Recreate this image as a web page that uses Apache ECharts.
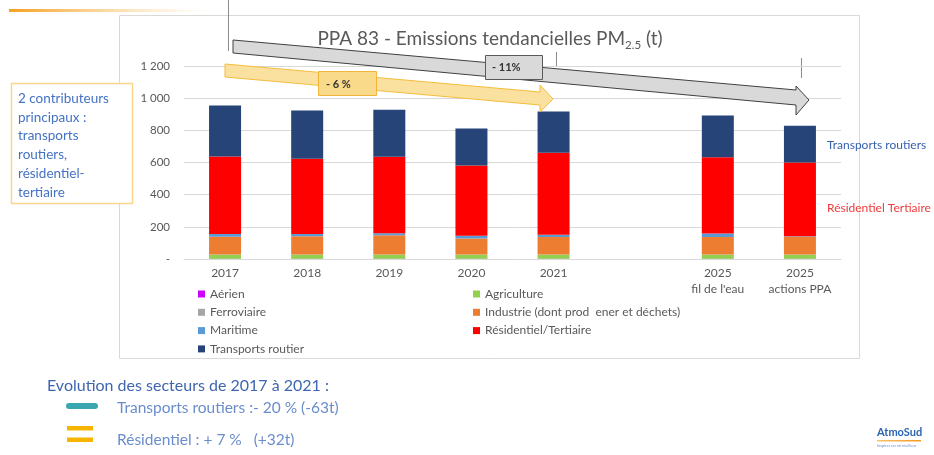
<!DOCTYPE html>
<html>
<head>
<meta charset="utf-8">
<script src="https://cdn.jsdelivr.net/npm/echarts@6/dist/echarts.min.js"></script>
<style>
  html, body { margin: 0; padding: 0; background: #fff; }
  #chart { width: 934px; height: 455px; }
</style>
</head>
<body>
<div id="chart"></div>
<script>
const categories = ['2017', '2018', '2019', '2020', '2021', '', "2025\nfil de l'eau", '2025\nactions PPA']
const yTickLabels = ['-', '200', '400', '600', '800', '1 000', '1 200']

// tonnes PM2.5 per sector ('-' = empty slot)
const aerien = [1, 1, 1, 1, 1, '-', 1, 1]
const agriculture = [26, 26, 26, 26, 26, '-', 26, 26]
const ferroviaire = [1, 1, 1, 1, 1, '-', 1, 1]
const industrie = [111, 113, 119, 100, 109, '-', 109, 111]
const maritime = [17, 15, 13, 17, 14, '-', 21, 3]
const residentiel = [481, 467, 475, 436, 510, '-', 475, 458]
const transports = [317, 301, 293, 231, 256, '-', 259, 229]

const font = 'Lato'
const grey = '#595959'

const chart = echarts.init(document.getElementById('chart'))

function bar(name, data, color) {
  return {
    name: name,
    type: 'bar',
    stack: 'total',
    barWidth: 32,
    data: data,
    itemStyle: { color: color },
    animation: false
  }
}

const legendText = { color: grey, fontSize: 12, fontFamily: font }

chart.setOption({
  textStyle: { fontFamily: font },
  title: {
    text: '{a|PPA 83 - Emissions tendancielles PM}{b|2.5}{a| (t)}',
    left: 485,
    textAlign: 'center',
    top: 22,
    z: 60,
    textStyle: {
      fontWeight: 'normal',
      rich: {
        a: { fontSize: 19, color: grey, fontFamily: font, fontWeight: 'normal', lineHeight: 24 },
        b: { fontSize: 11.5, color: grey, fontFamily: font, fontWeight: 'normal', verticalAlign: 'bottom', padding: [8, 0, 0, 0] }
      }
    }
  },
  grid: { left: 184, right: 93, top: 66, bottom: 196 },
  legend: [
    {
      orient: 'vertical',
      left: 193,
      top: 283,
      itemWidth: 7,
      itemHeight: 7,
      itemGap: 6.3,
      icon: 'rect',
      textStyle: legendText,
      data: ['Aérien', 'Ferroviaire', 'Maritime', 'Transports routier']
    },
    {
      orient: 'vertical',
      left: 468,
      top: 283,
      itemWidth: 7,
      itemHeight: 7,
      itemGap: 6.3,
      icon: 'rect',
      textStyle: legendText,
      data: ['Agriculture', 'Industrie (dont prod  ener et déchets)', 'Résidentiel/Tertiaire']
    }
  ],
  xAxis: {
    type: 'category',
    data: categories,
    axisTick: { show: false },
    axisLine: { lineStyle: { color: '#d9d9d9' } },
    axisLabel: { color: grey, fontSize: 12, lineHeight: 16, margin: 6, interval: 0 }
  },
  yAxis: {
    type: 'value',
    min: 0,
    max: 1200,
    interval: 200,
    axisLabel: {
      color: grey,
      fontSize: 11.5,
      margin: 14,
      formatter: v => yTickLabels[v / 200]
    },
    splitLine: { lineStyle: { color: '#d9d9d9' } }
  },
  series: [
    bar('Aérien', aerien, '#cc00ff'),
    bar('Agriculture', agriculture, '#92d050'),
    bar('Ferroviaire', ferroviaire, '#a5a5a5'),
    bar('Industrie (dont prod  ener et déchets)', industrie, '#ed7d31'),
    bar('Maritime', maritime, '#5b9bd5'),
    bar('Résidentiel/Tertiaire', residentiel, '#ff0000'),
    bar('Transports routier', transports, '#264478')
  ],
  graphic: [
    // chart frame
    { type: 'rect', z: -10, shape: { x: 119.5, y: 15.5, width: 740, height: 343 }, style: { fill: 'none', stroke: '#d9d9d9' } },
    // orange rule at the top
    {
      type: 'rect', shape: { x: 9, y: 9, width: 195, height: 3 },
      style: { fill: new echarts.graphic.LinearGradient(0, 0, 1, 0, [{ offset: 0, color: '#f5a020' }, { offset: 1, color: 'rgba(250,200,120,0)' }]) }
    },
    // thin marker lines
    { type: 'line', shape: { x1: 228.5, y1: 0, x2: 228.5, y2: 51 }, style: { stroke: '#8c8c8c' } },
    { type: 'line', shape: { x1: 556.5, y1: 52, x2: 556.5, y2: 66 }, style: { stroke: '#8c8c8c' } },
    { type: 'line', shape: { x1: 801.5, y1: 58, x2: 801.5, y2: 78 }, style: { stroke: '#8c8c8c' } },
    // grey trend arrow -11%
    {
      type: 'polygon', z: 50,
      shape: { points: [[233, 40], [796, 90], [796, 86], [809, 100], [796, 115], [796, 105], [233, 53]] },
      style: { fill: '#d9d9d9', stroke: '#404040', lineWidth: 1 }
    },
    { type: 'rect', z: 51, shape: { x: 485.5, y: 55.5, width: 57, height: 24 }, style: { fill: '#d9d9d9', stroke: '#595959' } },
    { type: 'text', z: 52, x: 492, y: 67, style: { text: '- 11%', fontSize: 11, fontWeight: 'bold', fill: '#333', fontFamily: font, verticalAlign: 'middle' } },
    // yellow trend arrow -6%
    {
      type: 'polygon', z: 50,
      shape: { points: [[225, 64], [540, 92], [540, 85], [553, 99], [540, 112], [540, 105], [225, 77]] },
      style: { fill: '#fbe1a0', stroke: '#f4bc3c', lineWidth: 1 }
    },
    { type: 'rect', z: 51, shape: { x: 318.5, y: 71.5, width: 58, height: 24 }, style: { fill: '#f9d98a', stroke: '#f2b43a' } },
    { type: 'text', z: 52, x: 326, y: 84, style: { text: '- 6 %', fontSize: 11, fontWeight: 'bold', fill: '#333', fontFamily: font, verticalAlign: 'middle' } },
    // left call-out box
    { type: 'rect', shape: { x: 11.5, y: 83.5, width: 121, height: 120 }, style: { fill: '#fff', stroke: '#fad58a', lineWidth: 1.5 } },
    {
      type: 'text', x: 18, y: 89,
      style: {
        text: '2 contributeurs\nprincipaux :\ntransports\nroutiers,\nrésidentiel-\ntertiaire',
        fontSize: 13.5, lineHeight: 18.8, fill: '#4472c4', fontFamily: font
      }
    },
    // right labels
    { type: 'text', x: 827, y: 145, style: { text: 'Transports routiers', fontSize: 12, fill: '#3762b0', fontFamily: font, verticalAlign: 'middle' } },
    { type: 'text', x: 827, y: 208, style: { text: 'Résidentiel Tertiaire', fontSize: 12, fill: '#f03c3c', fontFamily: font, verticalAlign: 'middle' } },
    // bottom notes
    { type: 'text', x: 47, y: 386, style: { text: 'Evolution des secteurs de 2017 à 2021 :', fontSize: 16, fill: '#3f65b0', fontFamily: font, verticalAlign: 'middle' } },
    { type: 'rect', shape: { x: 66, y: 403, width: 32, height: 6, r: 3 }, style: { fill: '#3aa7b0' } },
    { type: 'text', x: 117, y: 408, style: { text: 'Transports routiers :- 20 % (-63t)', fontSize: 15.5, fill: '#6a8dcc', fontFamily: font, verticalAlign: 'middle' } },
    { type: 'rect', shape: { x: 67, y: 426, width: 26, height: 4.5 }, style: { fill: '#f7b500' } },
    { type: 'rect', shape: { x: 67, y: 437.5, width: 26, height: 4.5 }, style: { fill: '#f7b500' } },
    { type: 'text', x: 117, y: 440, style: { text: 'Résidentiel : + 7 %   (+32t)', fontSize: 15.5, fill: '#6a8dcc', fontFamily: font, verticalAlign: 'middle' } },
    // logo
    { type: 'text', x: 877, y: 432, style: { text: 'AtmoSud', fontSize: 11, fontWeight: 'bold', fill: '#2b64b0', fontFamily: font, verticalAlign: 'middle' } },
    {
      type: 'rect', shape: { x: 877, y: 440, width: 44, height: 1.5 },
      style: { fill: new echarts.graphic.LinearGradient(0, 0, 1, 0, [{ offset: 0, color: '#f7c46a' }, { offset: 1, color: '#f39a1f' }]) }
    },
    { type: 'text', x: 877, y: 446, style: { text: 'Inspirer un air meilleur', fontSize: 4, fill: '#6b8cc8', fontFamily: font, verticalAlign: 'middle' } }
  ]
})
</script>
</body>
</html>
